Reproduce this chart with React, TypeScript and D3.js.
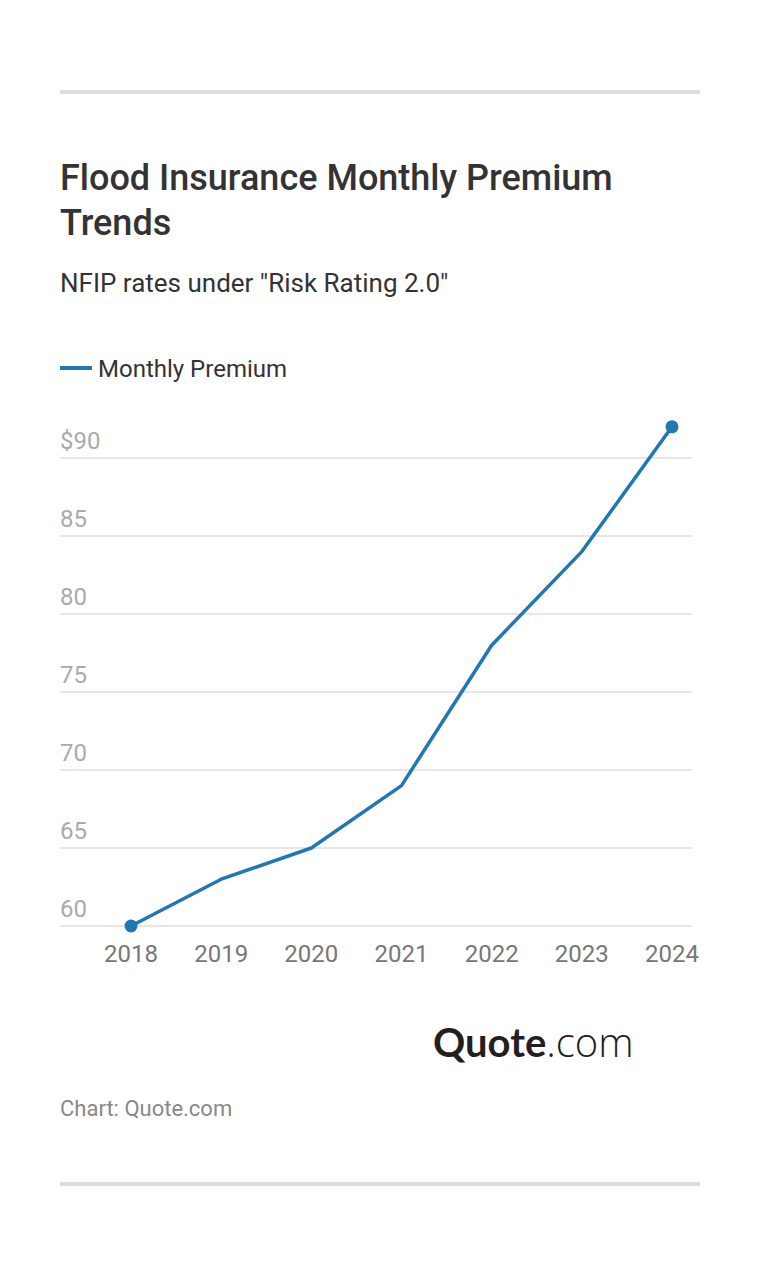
import React, { useRef, useEffect } from 'react';
import * as d3 from 'd3';

const years = ['2018', '2019', '2020', '2021', '2022', '2023', '2024'];
const premiums = [60, 63, 65, 69, 78, 84, 92];
const yTicks = [60, 65, 70, 75, 80, 85, 90];

const W = 760;
const H = 1266;
const FONT = 'Roboto, sans-serif';
const BLUE = '#2077b4';

export default function App() {
  const svgRef = useRef<SVGSVGElement>(null);

  useEffect(() => {
    if (!svgRef.current) return;
    const svg = d3.select(svgRef.current);
    svg.selectAll('*').remove();

    // top and bottom rules
    svg.append('rect').attr('x', 60).attr('y', 90).attr('width', 640).attr('height', 4).attr('fill', '#dddddd');
    svg.append('rect').attr('x', 60).attr('y', 1182).attr('width', 640).attr('height', 4).attr('fill', '#dddddd');

    // title + subtitle
    const title = svg.append('text')
      .attr('font-family', FONT)
      .attr('font-size', 36)
      .attr('font-weight', 500)
      .attr('fill', '#333333');
    title.append('tspan').attr('x', 60).attr('y', 190).text('Flood Insurance Monthly Premium');
    title.append('tspan').attr('x', 60).attr('y', 235).text('Trends');

    svg.append('text')
      .attr('x', 60).attr('y', 292)
      .attr('font-family', FONT).attr('font-size', 26)
      .attr('fill', '#333333')
      .text('NFIP rates under "Risk Rating 2.0"');

    // legend
    svg.append('line')
      .attr('x1', 60).attr('x2', 92).attr('y1', 368).attr('y2', 368)
      .attr('stroke', BLUE).attr('stroke-width', 4);
    svg.append('text')
      .attr('x', 98).attr('y', 377)
      .attr('font-family', FONT).attr('font-size', 24)
      .attr('fill', '#333333')
      .text('Monthly Premium');

    // scales
    const x = d3.scalePoint<string>().domain(years).range([131, 672]);
    const y = d3.scaleLinear().domain([60, 90]).range([926, 458]);

    // grid + y labels
    const grid = svg.append('g');
    grid.selectAll('line')
      .data(yTicks)
      .enter()
      .append('line')
      .attr('x1', 60).attr('x2', 692)
      .attr('y1', d => y(d)).attr('y2', d => y(d))
      .attr('stroke', '#e6e6e6').attr('stroke-width', 2);
    grid.selectAll('text')
      .data(yTicks)
      .enter()
      .append('text')
      .attr('x', 60)
      .attr('y', d => y(d) - 9)
      .attr('font-family', FONT).attr('font-size', 24)
      .attr('fill', '#aaaaaa')
      .text((d, i) => (i === yTicks.length - 1 ? `$${d}` : `${d}`));

    // x labels
    svg.append('g').selectAll('text')
      .data(years)
      .enter()
      .append('text')
      .attr('x', d => x(d) || 0)
      .attr('y', 962)
      .attr('text-anchor', 'middle')
      .attr('font-family', FONT).attr('font-size', 24)
      .attr('fill', '#777777')
      .text(d => d);

    // line
    const line = d3.line<number>()
      .x((_, i) => x(years[i]) || 0)
      .y(d => y(d));
    svg.append('path')
      .datum(premiums)
      .attr('d', line)
      .attr('fill', 'none')
      .attr('stroke', BLUE)
      .attr('stroke-width', 3.5)
      .attr('stroke-linejoin', 'round');

    // end dots
    const last = premiums.length - 1;
    svg.append('g').selectAll('circle')
      .data([0, last])
      .enter()
      .append('circle')
      .attr('cx', i => x(years[i]) || 0)
      .attr('cy', i => y(premiums[i]))
      .attr('r', 6.5)
      .attr('fill', BLUE);

    // logo
    const logo = svg.append('text')
      .attr('x', 433).attr('y', 1057)
      .attr('font-size', 40)
      .attr('fill', '#231f20');
    logo.append('tspan').attr('font-family', 'Lato, sans-serif').attr('font-weight', 700).text('Quote');
    logo.append('tspan').attr('font-family', '"Open Sans", sans-serif').attr('font-weight', 300).text('.com');

    // source
    svg.append('text')
      .attr('x', 60).attr('y', 1116)
      .attr('font-family', FONT).attr('font-size', 22)
      .attr('fill', '#888888')
      .text('Chart: Quote.com');
  }, []);

  return (
    <svg
      ref={svgRef}
      width={W}
      height={H}
      style={{ position: 'absolute', left: 0, top: 0, display: 'block', background: '#ffffff' }}
    />
  );
}
